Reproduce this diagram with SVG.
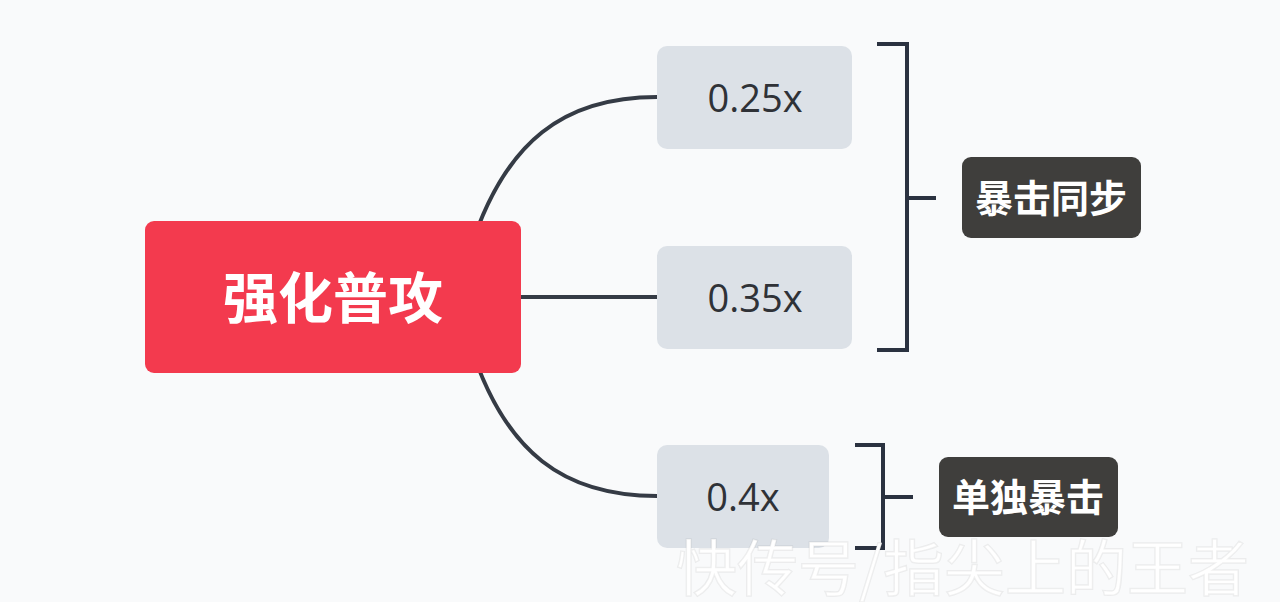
<svg xmlns="http://www.w3.org/2000/svg" width="1280" height="602" viewBox="0 0 1280 602">
<style>
.conn{fill:none;stroke:#353b45;stroke-width:4;stroke-linecap:butt}
.brk{fill:none;stroke:#2b3240;stroke-width:4}
.sub{fill:#dce1e7}
.num{font-family:"Open Sans","Liberation Sans",sans-serif;font-size:38px;fill:#2f3237;text-anchor:middle}
.tag{fill:#3f3e3c}
.cjk{font-family:"Noto Sans CJK SC","Noto Sans",sans-serif;font-weight:700;fill:#ffffff;text-anchor:middle}
</style>
<rect x="0" y="0" width="1280" height="602" fill="#f9fafb"/>
<g id="connectors">
<path class="conn" d="M470,250 C505,140 565,97 657,97"/>
<path class="conn" d="M500,297 L657,297"/>
<path class="conn" d="M470,344 C505,454 565,496 657,496"/>
<path class="brk" d="M877,44 L907,44 L907,350 L877,350 M907,198 L936,198"/>
<path class="brk" d="M855,445 L883,445 L883,548 L855,548 M883,497 L913,497"/>
</g>
<g id="main">
<rect x="145" y="221" width="376" height="152" rx="9" fill="#f33a4e"/>
<text class="cjk" x="333" y="318" font-size="55">强化普攻</text>
</g>
<g id="n025">
<rect class="sub" x="657" y="46" width="195" height="103" rx="10"/>
<text class="num" x="755" y="112">0.25x</text>
</g>
<g id="n035">
<rect class="sub" x="657" y="246" width="195" height="103" rx="10"/>
<text class="num" x="755" y="312">0.35x</text>
</g>
<g id="n04">
<rect class="sub" x="657" y="445" width="172" height="103" rx="10"/>
<text class="num" x="743" y="511">0.4x</text>
</g>
<g id="tag1">
<rect class="tag" x="962" y="157" width="179" height="81" rx="9"/>
<text class="cjk" x="1051" y="212" font-size="38">暴击同步</text>
</g>
<g id="tag2">
<rect class="tag" x="939" y="457" width="179" height="80" rx="9"/>
<text class="cjk" x="1028" y="511" font-size="38">单独暴击</text>
</g>
<text x="676" y="591" font-family="Noto Sans CJK SC,Noto Sans,sans-serif" font-size="61" fill="#ffffff" stroke="#000000" stroke-opacity="0.06" stroke-width="1.5">快传号/指尖上的王者</text>
</svg>
